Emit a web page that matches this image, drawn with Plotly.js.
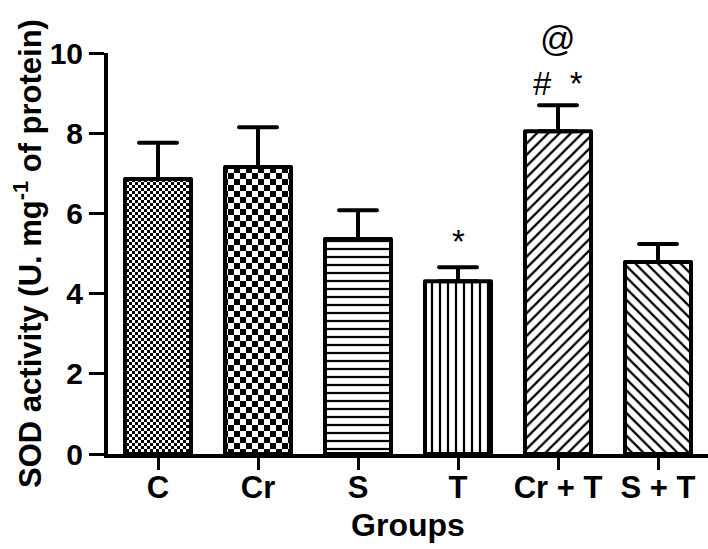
<!DOCTYPE html>
<html>
<head>
<meta charset="utf-8">
<script src="https://cdn.plot.ly/plotly-3.0.1.min.js"></script>
<style>body{margin:0;padding:0;background:#fff}#chart{width:708px;height:549px}</style>
</head>
<body>
<svg width="0" height="0" style="position:absolute">
  <defs>
    <pattern id="ckSmall" patternUnits="userSpaceOnUse" width="6" height="6">
      <rect width="6" height="6" fill="#fff"/>
      <rect x="0" y="0" width="3" height="3" fill="#000"/>
      <rect x="3" y="3" width="3" height="3" fill="#000"/>
    </pattern>
    <pattern id="ckLarge" patternUnits="userSpaceOnUse" width="12" height="12">
      <rect width="12" height="12" fill="#fff"/>
      <rect x="0" y="0" width="6" height="6" fill="#000"/>
      <rect x="6" y="6" width="6" height="6" fill="#000"/>
    </pattern>
  </defs>
</svg>
<div id="chart"></div>
<script>
const groups = ['C', 'Cr', 'S', 'T', 'Cr + T', 'S + T'];
const sodMean = [6.86, 7.16, 5.36, 4.31, 8.05, 4.79];
const sodSEM = [0.90, 0.99, 0.72, 0.35, 0.65, 0.45];
const patternShapes = ['', '', '-', '|', '/', '\\'];
const sigLabels = [
  {group: 'T', text: '*', y: 5.29, size: 33},
  {group: 'Cr + T', text: '#  *', y: 9.25, size: 33},
  {group: 'Cr + T', text: '@', y: 10.37, size: 35}
];
const yMax = 10;

const xIdx = groups.map((g, i) => i);
const font = {family: 'Liberation Sans, Arial, sans-serif', color: '#000'};

const trace = {
  type: 'bar',
  x: xIdx,
  y: sodMean,
  width: 0.66,
  marker: {
    color: '#fff',
    line: {color: '#000', width: 4},
    pattern: {shape: patternShapes, fgcolor: '#000', bgcolor: '#fff', size: 8, solidity: 0.28, fillmode: 'replace'}
  },
  error_y: {type: 'data', symmetric: false, array: sodSEM, arrayminus: sodMean.map(() => 0), color: '#000', thickness: 4, width: 19},
  hoverinfo: 'none'
};

const annotations = sigLabels.map(s => ({
  x: groups.indexOf(s.group), y: s.y / yMax, xref: 'x', yref: 'paper',
  text: s.text, showarrow: false, yanchor: 'middle',
  font: Object.assign({}, font, {size: s.size})
}));

const layout = {
  width: 708, height: 549,
  margin: {l: 108, r: 0, t: 53, b: 95},
  paper_bgcolor: '#fff', plot_bgcolor: '#fff',
  showlegend: false,
  xaxis: {
    range: [-0.5, 5.5],
    tickvals: xIdx, ticktext: groups.map(g => '<b>' + g + '</b>'),
    ticks: 'outside', ticklen: 12, tickwidth: 3, tickcolor: '#000',
    ticklabelstandoff: -9,
    showline: true, linewidth: 4, linecolor: '#000',
    showgrid: false, zeroline: false,
    tickfont: Object.assign({}, font, {size: 31}),
    title: {text: '<b>Groups</b>', font: Object.assign({}, font, {size: 32}), standoff: 10}
  },
  yaxis: {
    range: [0, yMax], dtick: 2,
    ticks: 'outside', ticklen: 15, tickwidth: 3, tickcolor: '#000',
    showline: true, linewidth: 4, linecolor: '#000',
    showgrid: false, zeroline: false,
    tickfont: Object.assign({}, font, {size: 30}),
    tickprefix: '<b>', ticksuffix: '</b>',
    title: {text: '<b>SOD activity (U. mg<sup>-1</sup> of protein)</b>', font: Object.assign({}, font, {size: 31}), standoff: 0}
  },
  annotations: annotations
};

Plotly.newPlot('chart', [trace], layout, {displayModeBar: false, staticPlot: true}).then(() => {
  const paths = document.querySelectorAll('#chart .barlayer .point path');
  paths.forEach(p => { p.style.strokeLinejoin = 'round'; });
  if (paths[0]) paths[0].style.fill = 'url(#ckSmall)';
  if (paths[1]) paths[1].style.fill = 'url(#ckLarge)';
  document.querySelectorAll('#chart .errorbar path').forEach(p => { p.style.strokeLinecap = 'round'; });
});
</script>
</body>
</html>
